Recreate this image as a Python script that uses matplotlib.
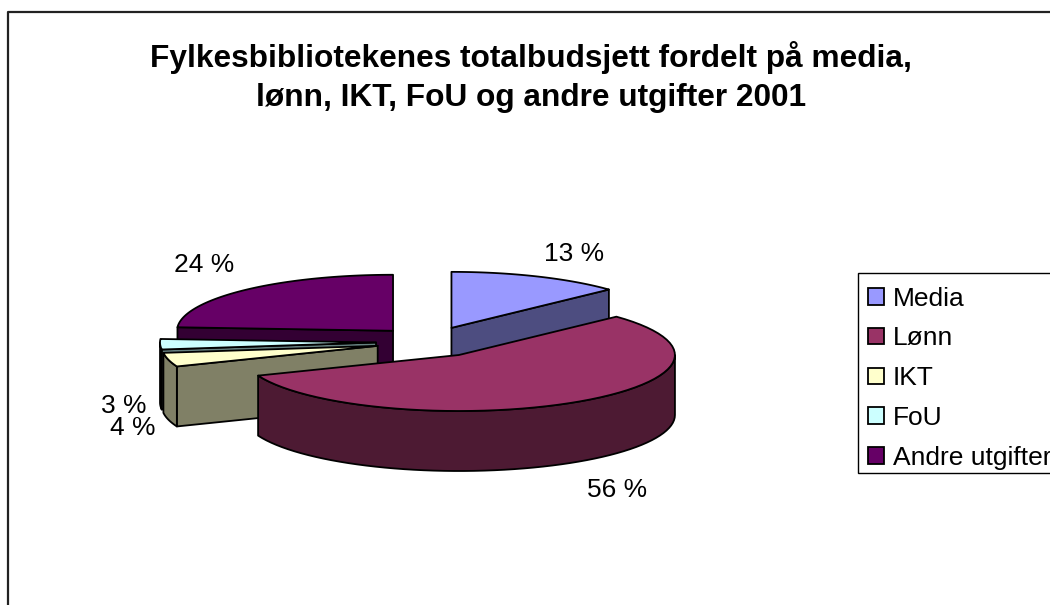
import matplotlib
matplotlib.use("Agg")
import matplotlib.pyplot as plt
from matplotlib.patches import Patch, Polygon, Rectangle
import numpy as np

plt.rcParams["font.family"] = ["Liberation Sans", "DejaVu Sans"]

title = "Fylkesbibliotekenes totalbudsjett fordelt på media,\nlønn, IKT, FoU og andre utgifter 2001"
categories = ["Media", "Lønn", "IKT", "FoU", "Andre utgifter"]
values = [13, 56, 4, 3, 24]
top_colors = ["#9999ff", "#993366", "#ffffcc", "#ccffff", "#660066"]
side_colors = ["#4d4d80", "#4d1a33", "#808066", "#668080", "#330033"]
label_pos = [(574, 254), (617, 490), (133, 428), (124, 406), (204, 265)]

# pie geometry in pixels
CX, CY = 430, 342
A, B = 216, 56
DEPTH = 60
EXPLODE_X, EXPLODE_Y = 0.25, 0.275
DRAW_ORDER = [4, 0, 3, 2, 1]  # back to front
EDGE = dict(edgecolor="black", linewidth=1.3, joinstyle="round")


def rim(cx, cy, a0, a1, n=60):
    t = np.linspace(a0, a1, n)
    return np.column_stack([cx + A * np.sin(t), cy - B * np.cos(t)])


def draw_slice(ax, frac0, frac1, top, side, z):
    a0, a1 = 2 * np.pi * frac0, 2 * np.pi * frac1
    mid = (a0 + a1) / 2
    cx = CX + EXPLODE_X * A * np.sin(mid)
    cy = CY - EXPLODE_Y * B * np.cos(mid)
    apex = np.array([cx, cy])
    drop = np.array([0, DEPTH])

    # radial faces that look at the viewer
    if a0 > np.pi:
        p = rim(cx, cy, a0, a0, 1)[0]
        ax.add_patch(Polygon([apex, p, p + drop, apex + drop], facecolor=side, zorder=z, **EDGE))
    if a1 < np.pi:
        p = rim(cx, cy, a1, a1, 1)[0]
        ax.add_patch(Polygon([apex, p, p + drop, apex + drop], facecolor=side, zorder=z, **EDGE))

    # outer wall, only the front half of the rim shows
    w0, w1 = max(a0, np.pi / 2), min(a1, 3 * np.pi / 2)
    if w1 > w0:
        r = rim(cx, cy, w0, w1)
        ax.add_patch(Polygon(np.vstack([r, (r + drop)[::-1]]), facecolor=side, zorder=z, **EDGE))

    ax.add_patch(Polygon(np.vstack([apex, rim(cx, cy, a0, a1)]), facecolor=top, zorder=z, **EDGE))


fig = plt.figure(figsize=(10.5, 6.05), dpi=100)
ax = fig.add_axes([0, 0, 1, 1])
ax.set_xlim(0, 1050)
ax.set_ylim(605, 0)
ax.axis("off")

# chart frame, runs off the right and bottom of the picture
ax.plot([1050, 8, 8], [12, 12, 605], color="#222222", lw=1.6, zorder=1)

ax.text(531, 77, title, ha="center", va="center", fontsize=22.8, fontweight="bold",
        linespacing=1.36, color="black")

fracs = np.cumsum([0] + values) / sum(values)
for z, i in enumerate(DRAW_ORDER):
    draw_slice(ax, fracs[i], fracs[i + 1], top_colors[i], side_colors[i], 2 + z)

for v, (x, y) in zip(values, label_pos):
    ax.text(x, y, f"{v} %", ha="center", va="center", fontsize=19, color="black", zorder=10)

# legend box is drawn apart, its entries sit lower than the padding allows
ax.add_patch(Rectangle((858, 273), 200, 200, facecolor="white", edgecolor="black", linewidth=1.0, zorder=1))
handles = [Patch(facecolor=c, edgecolor="black", linewidth=1.3) for c in top_colors]
ax.legend(handles, categories, loc="upper left", bbox_to_anchor=(858, 276.5),
          bbox_transform=ax.transData, fontsize=19, frameon=False,
          borderaxespad=0, borderpad=0.38,
          labelspacing=0.6, handlelength=0.6, handleheight=0.6, handletextpad=0.34)

fig.savefig("out.png", dpi=100)
